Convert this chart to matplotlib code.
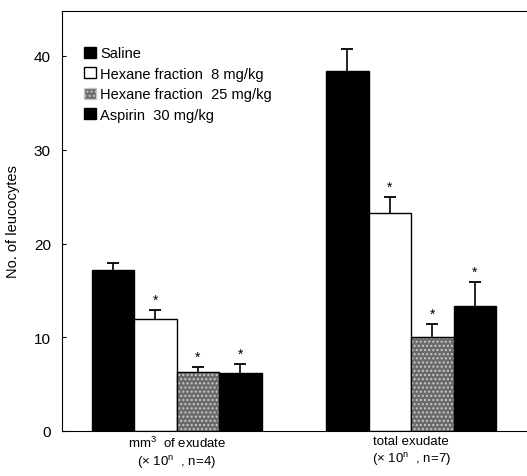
import matplotlib.pyplot as plt
import numpy as np

plt.rcParams['font.family'] = ['Liberation Sans', 'DejaVu Sans']

groups = ['mm$\\mathregular{^3}$  of exudate\n(\u00d7 10$\\mathregular{^n}$  , n=4)',
          'total exudate\n(\u00d7 10$\\mathregular{^n}$  , n=7)']
series = ['Saline', 'Hexane fraction  8 mg/kg', 'Hexane fraction  25 mg/kg', 'Aspirin  30 mg/kg']
saline = [17.2, 38.4]
hex8 = [11.9, 23.3]
hex25 = [6.3, 10.0]
aspirin = [6.2, 13.3]
saline_err = [0.7, 2.4]
hex8_err = [1.0, 1.7]
hex25_err = [0.5, 1.4]
aspirin_err = [0.9, 2.6]
signif = [False, True, True, True]

means = [saline, hex8, hex25, aspirin]
errs = [saline_err, hex8_err, hex25_err, aspirin_err]

fig = plt.figure(figsize=(5.27, 4.77), dpi=100)
ax = fig.add_axes([62/527, 1-432/477, 1-62/527+0.01, (432-12)/477])

centers = np.array([0.0, 1.378])
w = 0.25
offsets = np.array([-1.5, -0.5, 0.5, 1.5]) * w
faces = ['black', 'white', '#6a6a6a', 'black']
hatches = [None, None, '....', None]

for i in range(4):
    x = centers + offsets[i]
    top = np.array(means[i]) + np.array(errs[i])
    b = ax.bar(x, means[i], width=w, color=faces[i], edgecolor='black',
               linewidth=1.0, label=series[i], zorder=2)
    if hatches[i]:
        for p in b:
            p.set_hatch(hatches[i])
            p.set_edgecolor('#c8c8c8')
        # black outline over the hatch colour
        ax.bar(x, means[i], width=w, color='none', edgecolor='black', linewidth=1.0, zorder=3)
    # one-sided error bars, cap only at the top
    ax.vlines(x, means[i], top, color='black', linewidth=1.2, zorder=1)
    ax.plot(x, top, linestyle='none', marker='_', markersize=8, markeredgewidth=1.3,
            color='black', zorder=1)
    if signif[i]:
        for xx, t in zip(x, top):
            ax.text(xx, t + 1.1, '*', ha='center', va='center', fontsize=10)

ax.set_xlim(-0.674, 2.09)
ax.set_ylim(0, 44.8)
ax.set_yticks([0, 10, 20, 30, 40])
ax.tick_params(axis='y', direction='in', length=3, labelsize=11, pad=8)
ax.set_xticks(centers)
ax.set_xticklabels(groups, fontsize=9.5, linespacing=1.2)
ax.tick_params(axis='x', length=0, pad=3)
ax.set_ylabel('No. of leucocytes', fontsize=10.5, labelpad=10)
ax.spines['right'].set_visible(False)

ax.legend(loc='upper left', bbox_to_anchor=(0.035, 0.93), frameon=False, fontsize=10.5,
          handlelength=0.8, handleheight=0.8, handletextpad=0.3, labelspacing=0.45,
          borderaxespad=0)

plt.savefig('out.png', dpi=100)
